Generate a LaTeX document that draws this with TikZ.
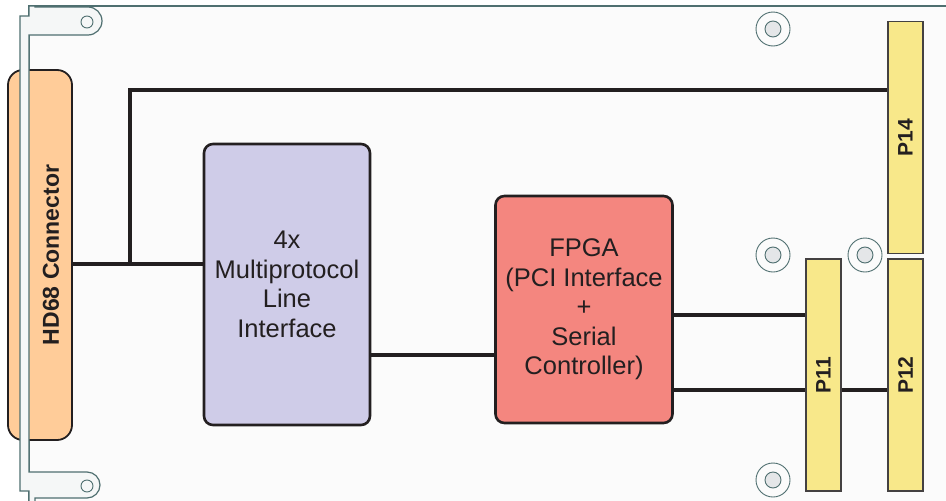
\documentclass[tikz,border=0pt]{standalone}
\usepackage{fontspec}
\setmainfont{Liberation Sans}
\usetikzlibrary{calc}

\definecolor{ink}{HTML}{231F20}
\definecolor{edge}{HTML}{4F6F70}
\definecolor{boardbg}{HTML}{FBFBFB}
\definecolor{bracketbg}{HTML}{F5F7F7}
\definecolor{connorange}{HTML}{FFCC99}
\definecolor{lavender}{HTML}{CFCCE8}
\definecolor{fpgared}{HTML}{F4867F}
\definecolor{pinyellow}{HTML}{F8E88A}
\definecolor{holegray}{HTML}{E4E6E8}

\begin{document}
\begin{tikzpicture}[x=1pt,y=-1pt,
    wire/.style={draw=ink,line width=4pt},
    block/.style={draw=ink,line width=2.6pt,rounded corners=9pt,
      align=center,text=ink,font=\fontsize{25.5}{29.5}\selectfont},
    header/.style={draw=ink!85,line width=1.1pt,fill=pinyellow,
      minimum width=35pt,minimum height=232pt,inner sep=0pt,
      text=ink,font=\fontsize{21}{21}\bfseries\selectfont},
    hole/.style={draw=edge,line width=0.9pt}]

  \useasboundingbox (0,0) rectangle (946,501);

  % placa
  \fill[white] (0,0) rectangle (946,501);
  \filldraw[fill=boardbg,draw=edge,line width=1.4pt] (29,6) rectangle (960,520);

  % conector HD68
  \node[draw=ink,line width=1.8pt,fill=connorange,rounded corners=15pt,
    minimum width=64pt,minimum height=370pt,inner sep=0pt,text=ink,
    font=\fontsize{23}{23}\bfseries\selectfont]
    (hd68) at (40,255) {\hspace*{22pt}\rotatebox{90}{HD68 Connector}};

  % painel frontal (bracket)
  \filldraw[fill=bracketbg,draw=edge,line width=1.2pt]
    (20,16) -- (29,16) -- (29,6) -- (35,6) -- (35,7) -- (88,7)
    arc[start angle=-90,end angle=90,radius=14] -- (29,35) -- (29,472)
    -- (87,472) arc[start angle=-90,end angle=90,radius=13] -- (35,498)
    -- (35,505) -- (29,505) -- (29,491) -- (20,491) -- cycle;
  \draw[hole] (87,22) circle (6);
  \draw[hole] (87,486) circle (6);

  % furos de fixacao
  \foreach \hx/\hy in {773/29, 773/255, 865/255, 773/480} {
    \draw[hole] (\hx,\hy) circle (17);
    \filldraw[hole,fill=holegray] (\hx,\hy) circle (8);
  }

  % blocos
  \node[block,fill=lavender,minimum width=166pt,minimum height=281pt]
    (mlp) at (287,284.5) {4x\\Multiprotocol\\Line\\Interface};
  \node[block,fill=fpgared,minimum width=177pt,minimum height=227pt]
    (fpga) at (584,309.5) {FPGA\\(PCI Interface\\+\\Serial\\Controller)};

  % conectores P11, P12, P14
  \node[header] (p14) at (905.5,137.5) {\rotatebox{90}{P14}};
  \node[header] (p12) at (905.5,375) {\rotatebox{90}{P12}};
  \node[header] (p11) at (823.5,375) {\rotatebox{90}{P11}};

  % pontos das ligacoes
  \coordinate (tap) at (130,264);
  \coordinate (up) at (130,90);
  \coordinate (mid) at (430,355);
  \coordinate (busA) at (740,315);
  \coordinate (busB) at (740,390);

  % ligacoes
  \draw[wire] (hd68.east |- tap) -- (mlp.west |- tap);
  \draw[wire] (tap) -- (up) -- (p14.west |- up);
  \draw[wire] (mlp.east |- mid) -- (fpga.west |- mid);
  \draw[wire] (fpga.east |- busA) -- (p11.west |- busA);
  \draw[wire] (fpga.east |- busB) -- (p11.west |- busB);
  \draw[wire] (p11.east |- busB) -- (p12.west |- busB);

\end{tikzpicture}
\end{document}
